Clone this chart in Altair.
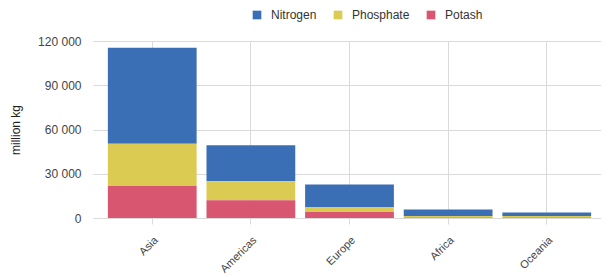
import altair as alt
import pandas as pd

regions = ["Asia", "Americas", "Europe", "Africa", "Oceania"]
nutrients = ["Nitrogen", "Phosphate", "Potash"]
nitrogen = [65100, 24400, 15200, 4500, 2300]
phosphate = [28700, 12900, 3400, 900, 1100]
potash = [21700, 12000, 4100, 400, 300]
colors = ["#3a6fb6", "#dccb52", "#d8566f"]
y_ticks = [0, 30000, 60000, 90000, 120000]

rows = []
for i, r in enumerate(regions):
    for j, (n, vals) in enumerate(zip(nutrients, [nitrogen, phosphate, potash])):
        rows.append({"region": r, "nutrient": n, "value": vals[i], "stack": 2 - j})
df = pd.DataFrame(rows)

font = "Liberation Sans"
grid_c = "#dadada"

chart = alt.Chart(df).mark_bar().encode(
    x=alt.X(
        "region:N", sort=regions, title=None,
        scale=alt.Scale(paddingInner=0.1, paddingOuter=0.1),
        axis=alt.Axis(labelAngle=-45, grid=True, bandPosition=0.5, ticks=True, tickSize=6,
                      domain=False, labelPadding=10, labelFontSize=11, labelColor="#444",
                      tickColor=grid_c, gridColor=grid_c, labelFont=font, labelLimit=0),
    ),
    y=alt.Y(
        "value:Q", title="million kg", stack="zero",
        scale=alt.Scale(domain=[0, 120000], nice=False),
        axis=alt.Axis(values=y_ticks, labelExpr="replace(format(datum.value, ','), ',', ' ')",
                      tickSize=5, tickColor=grid_c, gridColor=grid_c, domain=False,
                      labelPadding=12, labelFontSize=12, labelColor="#444", labelFont=font,
                      titleFont=font, titleFontSize=12, titleFontWeight="normal",
                      titleColor="#222", titleX=-76, titleY=88.5),
    ),
    color=alt.Color(
        "nutrient:N", scale=alt.Scale(domain=nutrients, range=colors),
        legend=alt.Legend(title=None, orient="none", legendX=153, legendY=-32,
                          direction="horizontal", symbolType="square", symbolSize=75,
                          symbolStrokeWidth=0, labelFontSize=12, labelFont=font,
                          labelColor="#333", labelOffset=8, columnPadding=15),
    ),
    order=alt.Order("stack:Q", sort="ascending"),
).properties(
    width=503, height=177,
    autosize=alt.AutoSizeParams(type="none"),
    padding={"left": 90, "top": 33, "right": 0, "bottom": 59},
).configure_view(stroke=None)

chart.save("out.html", embed_options={"renderer": "svg", "actions": False})
